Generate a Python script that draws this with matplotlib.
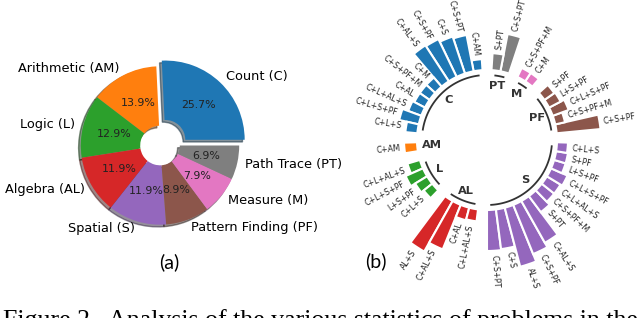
import numpy as np
import matplotlib.pyplot as plt

# (a) share of puzzles per skill class
pie_labels = ["Count (C)", "Arithmetic (AM)", "Logic (L)", "Algebra (AL)",
              "Spatial (S)", "Pattern Finding (PF)", "Measure (M)", "Path Trace (PT)"]
pie_counts = [26, 14, 13, 12, 12, 9, 8, 7]
pie_explode = [0.1, 0, 0, 0, 0, 0, 0, 0]

# (b) skill combinations inside each class (bar heights)
groups = ["C", "AM", "L", "AL", "S", "PF", "M", "PT"]
c_labels = ["C+AM", "C+S+PT", "C+S", "C+S+PF", "C+AL+S", "C+M", "C+S+PF+M",
            "C+AL", "C+L+AL+S", "C+L+S+PF", "C+L+S"]
c_values = [11, 37, 39, 42, 43, 12, 12, 12, 14, 20, 12]
am_labels = ["C+AM"]
am_values = [13]
l_labels = ["C+L+AL+S", "C+L+S+PF", "L+S+PF", "C+L+S"]
l_values = [13, 19, 14, 11]
al_labels = ["AL+S", "C+AL+S", "C+AL", "C+L+AL+S"]
al_values = [58, 48, 13, 12]
s_labels = ["C+S+PT", "C+S", "AL+S", "C+S+PF", "C+AL+S", "S+PT", "C+S+PF+M",
            "C+L+AL+S", "C+L+S+PF", "L+S+PF", "S+PF", "C+L+S"]
s_values = [41, 40, 61, 53, 48, 20, 16, 16, 18, 12, 12, 11]
pf_labels = ["C+S+PF", "C+S+PF+M", "C+L+S+PF", "L+S+PF", "S+PF"]
pf_values = [44, 10, 17, 13, 12]
m_labels = ["C+M", "C+S+PF+M"]
m_values = [10, 10]
pt_labels = ["C+S+PT", "S+PT"]
pt_values = [38, 17]

caption = "Figure 2.  Analysis of the various statistics of problems in the"

fig = plt.figure(figsize=(6.4, 3.18), dpi=100)

## pie chart
ax1 = fig.add_axes([61/640, (318-244.5)/318, 198/640, 198/318])
wedges, texts, autotexts = ax1.pie(
    pie_counts, labels=pie_labels, explode=pie_explode, startangle=0,
    autopct="%.1f%%", pctdistance=0.6, shadow=True,
    wedgeprops=dict(width=0.75), textprops=dict(fontsize=9.3))
for t in autotexts:
    t.set_fontsize(7.9)
    t.set_color("#222222")
fig.text(169/640, 1-262/318, "(a)", fontsize=14, family="Lato",
         ha="center", va="center")

## circular barplot with groups
all_labels = [c_labels, am_labels, l_labels, al_labels, s_labels, pf_labels, m_labels, pt_labels]
all_values = [c_values, am_values, l_values, al_values, s_values, pf_values, m_values, pt_values]
sizes = [len(v) for v in all_values]
labels = sum(all_labels, [])
values = sum(all_values, [])

PAD = 1
OFFSET = np.pi/2
n_slots = len(values) + PAD*len(groups)
angles = np.linspace(0, 2*np.pi, n_slots, endpoint=False)
width = 2*np.pi/n_slots
idxs = []
offset = 0
for size in sizes:
    idxs += list(range(offset+PAD, offset+size+PAD))
    offset += size + PAD

ax2 = fig.add_axes([347/640, 38/318, 280/640, 280/318], projection="polar")
ax2.set_theta_offset(OFFSET)
ax2.set_ylim(-70, 70)
ax2.set_frame_on(False)
ax2.xaxis.grid(False)
ax2.yaxis.grid(False)
ax2.set_xticks([])
ax2.set_yticks([])

colors = [f"C{i}" for i, size in enumerate(sizes) for _ in range(size)]
ax2.bar(angles[idxs], values, width=width, color=colors, edgecolor="white", linewidth=1.5)

def get_label_rotation(angle, offset):
    rotation = np.rad2deg(angle + offset)
    if angle <= np.pi:
        alignment = "right"
        rotation = rotation + 180
    else:
        alignment = "left"
    return rotation, alignment

for angle, value, label in zip(angles[idxs], values, labels):
    rotation, alignment = get_label_rotation(angle, OFFSET)
    ax2.text(angle, value + 4, label, ha=alignment, va="center", fontsize=5.7,
             color="#222222", rotation=rotation, rotation_mode="anchor")

offset = 0
for group, size in zip(groups, sizes):
    x1 = np.linspace(angles[offset+PAD], angles[offset+size+PAD-1], num=50)
    ax2.plot(x1, [-5]*50, color="#333333", lw=1.3)
    ax2.text(np.mean(x1), -15, group, color="#333333", fontsize=8.2,
             fontweight="bold", ha="center", va="center")
    offset += size + PAD

fig.text(376/640, 1-261/318, "(b)", fontsize=14, family="Lato",
         ha="center", va="center")

# caption of the paper, cut by the bottom edge as in the source image
fig.text(3/640, (318-326.5)/318, caption, fontsize=18.65, family="Liberation Serif",
         ha="left", va="baseline")

fig.savefig("out.png", dpi=100)
